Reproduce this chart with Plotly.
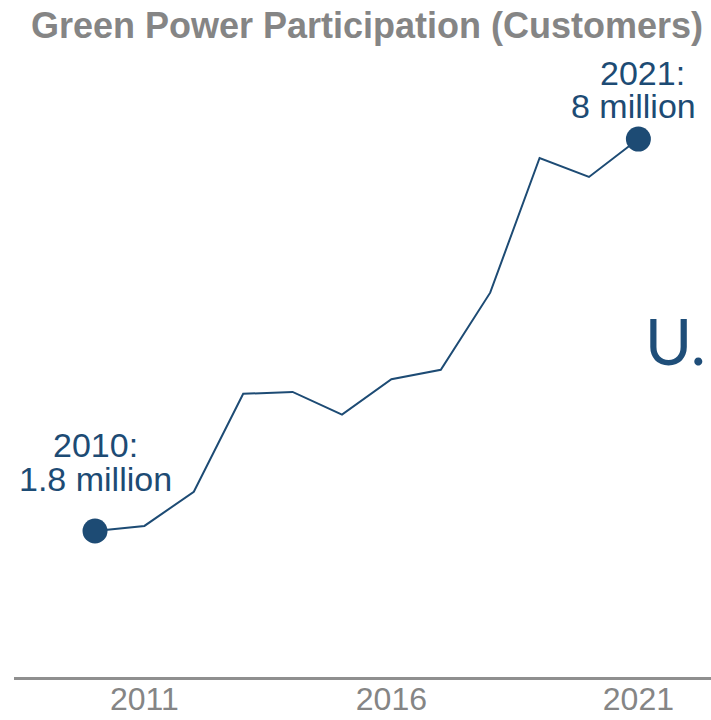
import plotly.graph_objects as go

years = [2010, 2011, 2012, 2013, 2014, 2015, 2016, 2017, 2018, 2019, 2020, 2021]
customers_millions = [1.8, 1.88, 2.42, 3.97, 4.0, 3.64, 4.2, 4.35, 5.57, 7.7, 7.4, 8.0]
tick_years = [2011, 2016, 2021]
tick_labels = ["2011", "2016", "2021"]
title_text = "Green Power Participation (Customers)"
side_text = "U.\u200aS."

BLUE = "#1D4B74"
GREY = "#858585"

fig = go.Figure()
fig.add_trace(go.Scatter(
    x=years, y=customers_millions, mode="lines",
    line=dict(color=BLUE, width=2), hoverinfo="skip", showlegend=False))
fig.add_trace(go.Scatter(
    x=[years[0], years[-1]], y=[customers_millions[0], customers_millions[-1]],
    mode="markers", marker=dict(color=BLUE, size=25),
    hoverinfo="skip", showlegend=False))

afont = dict(family="Liberation Sans, Arial, sans-serif", size=34, color=BLUE)
first_label = [f"{years[0]}:", f"{customers_millions[0]:g} million"]
last_label = [f"{years[-1]}:", f"{customers_millions[-1]:g} million"]
for txt, ys, xs in zip(first_label, [68, 34], [0, 0]):
    fig.add_annotation(x=years[0], y=customers_millions[0], text=txt, showarrow=False,
                       yanchor="bottom", xanchor="center", yshift=ys, xshift=xs,
                       height=32, valign="middle", font=afont)
for txt, ys, xs in zip(last_label, [48, 15], [4, -5]):
    fig.add_annotation(x=years[-1], y=customers_millions[-1], text=txt, showarrow=False,
                       yanchor="bottom", xanchor="center", yshift=ys, xshift=xs,
                       height=32, valign="middle", font=afont)

fig.add_annotation(xref="paper", yref="paper", x=(643 - 14) / 697, y=1 - 340 / 677,
                   text=side_text, showarrow=False, xanchor="left", yanchor="middle",
                   font=dict(family="Lato, sans-serif", size=64, color="#1F4E79"))

fig.update_layout(
    width=711, height=720,
    margin=dict(l=14, r=0, t=0, b=43, autoexpand=False),
    paper_bgcolor="white", plot_bgcolor="white",
    title=dict(text=f"<b>{title_text}</b>", xref="container", yref="container",
               x=367 / 711, y=1 - 25 / 720, xanchor="center", yanchor="middle",
               automargin=False,
               font=dict(family="Liberation Sans, Arial, sans-serif", size=36, color=GREY)),
    xaxis=dict(range=[2008.36, 2022.47], showgrid=False, zeroline=False, automargin=False,
               showline=True, linecolor="#8f8f8f", linewidth=3,
               tickmode="array", tickvals=tick_years, ticktext=tick_labels, ticks="",
               ticklabelstandoff=-8,
               tickfont=dict(family="Liberation Sans, Arial, sans-serif", size=32, color=GREY)),
    yaxis=dict(range=[-0.51, 10.20], visible=False, showgrid=False, zeroline=False,
               automargin=False),
)

fig.write_html("out.html")
